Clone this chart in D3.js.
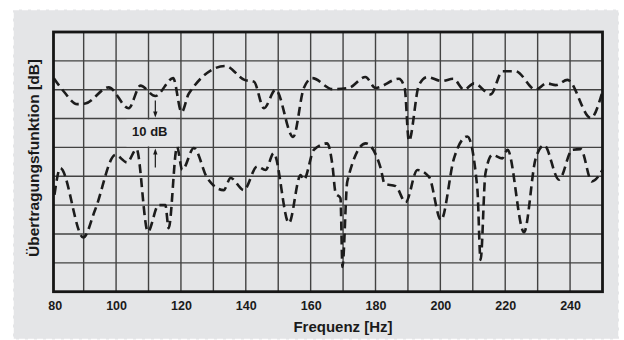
<!DOCTYPE html>
<html>
<head>
<meta charset="utf-8">
<script src="https://cdn.jsdelivr.net/npm/d3@7"></script>
<style>
  body { margin: 0; background: #ffffff; }
  svg { display: block; font-family: 'Liberation Sans', Arial, Helvetica, sans-serif; }
</style>
</head>
<body>
<svg id="chart"></svg>
<script>
// upper curve (frequency in Hz, level in dB)
const upperHz = [80.8, 84.0, 88.0, 90.5, 97.7, 103.9, 107.5, 112.1, 117.6, 120.2, 122.4, 133.7,
  139.6, 142.5, 145.6, 149.2, 154.6, 157.9, 160.5, 166.8, 171.7, 176.9, 180.0, 187.2, 189.0,
  190.3, 193.4, 196.0, 200.4, 204.0, 207.3, 210.4, 215.5, 219.2, 223.2, 229.4, 232.8, 235.6,
  239.2, 246.4, 250.0];
const upperDb = [74.0, 69.2, 65.0, 65.2, 70.8, 63.6, 71.4, 67.8, 74.0, 62.2, 68.6, 78.2,
  73.4, 72.8, 63.6, 70.0, 53.6, 70.6, 74.0, 70.2, 70.6, 74.4, 70.6, 73.8, 70.6,
  52.2, 71.6, 74.4, 73.0, 73.8, 70.0, 72.2, 68.4, 76.4, 76.4, 70.0, 72.2, 71.6,
  73.4, 60.2, 69.4];

// lower curve
const lowerHz = [81.0, 82.8, 89.9, 93.6, 99.8, 103.4, 106.3, 109.8, 113.1, 115.2, 116.2, 118.8,
  120.4, 124.0, 128.1, 133.2, 135.3, 139.4, 143.5, 146.1, 148.6, 153.3, 156.9, 157.9, 161.0,
  165.1, 166.7, 167.7, 169.2, 169.8, 171.3, 177.0, 181.6, 182.8, 186.2, 189.3, 192.9, 196.5,
  200.2, 204.2, 208.3, 211.4, 212.4, 213.9, 216.0, 219.1, 220.7, 225.8, 229.4, 232.0, 236.6,
  240.7, 243.3, 246.7, 250.0];
const lowerDb = [33.6, 42.8, 18.8, 28.6, 47.4, 44.8, 49.4, 20.8, 30.0, 30.0, 22.0, 50.2,
  42.2, 49.8, 39.4, 35.2, 39.4, 35.2, 43.4, 42.2, 48.0, 23.8, 40.4, 38.8, 49.2,
  51.4, 44.0, 34.2, 32.4, 8.6, 38.2, 51.4, 42.8, 37.4, 36.6, 31.0, 42.2, 39.8,
  24.8, 46.2, 53.8, 35.8, 11.0, 41.0, 47.4, 46.2, 49.2, 20.6, 46.2, 50.8, 38.8,
  49.2, 49.4, 38.2, 42.2];

const xTickLabels = [80, 100, 120, 140, 160, 180, 200, 220, 240];
const xGrid = d3.range(90, 250, 10);
const yGrid = d3.range(10, 90, 10);

const width = 624, height = 340;
const bg = '#e4e5e7';

const svg = d3.select('#chart')
  .attr('width', width)
  .attr('height', height);

// outer panel with dashed light border
svg.append('rect')
  .attr('x', 13).attr('y', 9.5)
  .attr('width', 606).attr('height', 330)
  .attr('fill', bg)
  .attr('stroke', '#ffffff')
  .attr('stroke-width', 1.5)
  .attr('stroke-dasharray', '6,3');

/***************** Scales *************************/
const x = d3.scaleLinear()
  .domain([80.7, 250])
  .range([53.5, 602.5]);

const y = d3.scaleLinear()
  .domain([0, 90])
  .range([291.7, 32]);

/***************** Grid *************************/
const grid = svg.append('g');

grid.selectAll('.vgrid')
  .data(xGrid)
  .enter()
  .append('line')
  .attr('x1', d => x(d)).attr('x2', d => x(d))
  .attr('y1', y(90)).attr('y2', y(0))
  .style('stroke', '#424242')
  .style('stroke-width', 1.4);

grid.selectAll('.hgrid')
  .data(yGrid)
  .enter()
  .append('line')
  .attr('x1', x(80.7)).attr('x2', x(250))
  .attr('y1', d => y(d)).attr('y2', d => y(d))
  .style('stroke', '#424242')
  .style('stroke-width', 1.4);

/***************** 10 dB marker *************************/
const ann = svg.append('g');
ann.append('rect')
  .attr('x', x(103.2)).attr('y', y(60) + 1)
  .attr('width', x(118.5) - x(103.2))
  .attr('height', y(50) - y(60) - 2)
  .attr('fill', bg);

ann.append('text')
  .attr('x', x(110.4))
  .attr('y', y(50) - 11.5)
  .attr('text-anchor', 'middle')
  .style('font-size', '13px')
  .style('font-weight', 'bold')
  .style('fill', '#1a1a1a')
  .text('10 dB');

const arrowX = x(112.1);
// down arrow onto the 60 dB line
ann.append('line')
  .attr('x1', arrowX).attr('x2', arrowX)
  .attr('y1', y(60) - 18).attr('y2', y(60) - 6)
  .style('stroke', '#1a1a1a').style('stroke-width', 1.2);
ann.append('path')
  .attr('d', `M${arrowX - 2.2},${y(60) - 7} L${arrowX + 2.2},${y(60) - 7} L${arrowX},${y(60) - 1} Z`)
  .attr('fill', '#1a1a1a');
// up arrow onto the 50 dB line
ann.append('line')
  .attr('x1', arrowX).attr('x2', arrowX)
  .attr('y1', y(50) + 6).attr('y2', y(50) + 20)
  .style('stroke', '#1a1a1a').style('stroke-width', 1.2);
ann.append('path')
  .attr('d', `M${arrowX - 2.2},${y(50) + 7} L${arrowX + 2.2},${y(50) + 7} L${arrowX},${y(50) + 1} Z`)
  .attr('fill', '#1a1a1a');

/***************** Curves *************************/
const line = d3.line()
  .x(d => x(d[0]))
  .y(d => y(d[1]))
  .curve(d3.curveMonotoneX);

[[upperHz, upperDb], [lowerHz, lowerDb]].forEach(([hz, db]) => {
  svg.append('path')
    .datum(hz.map((f, i) => [f, db[i]]))
    .attr('d', line)
    .attr('fill', 'none')
    .style('stroke', '#1c1c1c')
    .style('stroke-width', 2.6)
    .style('stroke-dasharray', '9,5')
    .style('stroke-linejoin', 'round');
});

/***************** Frame *************************/
svg.append('rect')
  .attr('x', x(80.7)).attr('y', y(90))
  .attr('width', x(250) - x(80.7))
  .attr('height', y(0) - y(90))
  .attr('fill', 'none')
  .style('stroke', '#161616')
  .style('stroke-width', 2.8);

/***************** Axis labels *************************/
const xAxis = svg.append('g')
  .attr('transform', `translate(0, ${y(0)})`)
  .call(d3.axisBottom(x).tickValues(xTickLabels).tickSize(0).tickPadding(9));
xAxis.select('.domain').remove();
xAxis.selectAll('text')
  .style('font-size', '12.5px')
  .style('font-weight', 'bold')
  .style('font-family', "'Liberation Sans', Arial, Helvetica, sans-serif")
  .style('fill', '#1a1a1a');
// the first label sits on the frame edge, not on 80 Hz exactly
xAxis.selectAll('text')
  .filter(d => d === 80)
  .attr('dx', 3.5);

svg.append('text')
  .attr('x', 343)
  .attr('y', 331.5)
  .attr('text-anchor', 'middle')
  .style('font-size', '15px')
  .style('font-weight', 'bold')
  .style('fill', '#1a1a1a')
  .text('Frequenz [Hz]');

svg.append('text')
  .attr('transform', 'translate(39, 158) rotate(-90)')
  .attr('text-anchor', 'middle')
  .style('font-size', '15.5px')
  .style('font-weight', 'bold')
  .style('fill', '#1a1a1a')
  .text('Übertragungsfunktion [dB]');
</script>
</body>
</html>
